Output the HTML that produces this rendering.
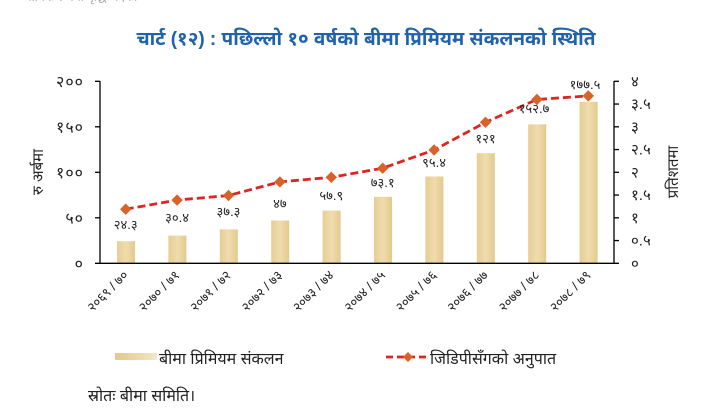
<!DOCTYPE html>
<html>
<head>
<meta charset="utf-8">
<style>
  html,body{margin:0;padding:0;background:#fff;}
  svg{display:block;}
  text{font-family:"Liberation Sans","Noto Sans Devanagari","Lohit Devanagari","FreeSans","Mangal","Noto Sans CJK SC",sans-serif;}
</style>
</head>
<body>
<svg width="710" height="413" viewBox="0 0 710 413" xmlns="http://www.w3.org/2000/svg">
  <defs>
    <linearGradient id="bar" x1="0" y1="0" x2="1" y2="0">
      <stop offset="0" stop-color="#e6cd93"/>
      <stop offset="0.5" stop-color="#efdcae"/>
      <stop offset="1" stop-color="#e4c98d"/>
    </linearGradient>
    <linearGradient id="leg" x1="0" y1="0" x2="1" y2="0">
      <stop offset="0" stop-color="#e3c890"/>
      <stop offset="0.6" stop-color="#ecd9ad"/>
      <stop offset="1" stop-color="#f3e7cc"/>
    </linearGradient>
  </defs>
  <rect width="710" height="413" fill="#fff"/>

  <!-- cut-off text at top -->
  <text x="25" y="1" font-size="12" fill="#aaa">वार्षिक रूपमा वृद्धि भएको</text>

  <!-- Title -->
  <text x="366" y="45" font-size="19" font-weight="bold" fill="#1f62ad" text-anchor="middle">चार्ट (१२) : पछिल्लो १० वर्षको बीमा प्रिमियम संकलनको स्थिति</text>

  <!-- Bars -->
  <g fill="url(#bar)">
    <rect x="117" y="241.2" width="18" height="22.1"/>
    <rect x="168.4" y="235.6" width="18" height="27.7"/>
    <rect x="219.8" y="229.4" width="18" height="33.9"/>
    <rect x="271.2" y="220.5" width="18" height="42.8"/>
    <rect x="322.6" y="210.6" width="18" height="52.7"/>
    <rect x="374" y="196.8" width="18" height="66.5"/>
    <rect x="425.4" y="176.5" width="18" height="86.8"/>
    <rect x="476.8" y="153.2" width="18" height="110.1"/>
    <rect x="528.2" y="124.3" width="18" height="139"/>
    <rect x="579.6" y="101.8" width="18" height="161.5"/>
  </g>

  <!-- Axes -->
  <g stroke="#000" stroke-width="1.3" fill="none">
    <line x1="100" y1="81" x2="100" y2="263.3"/>
    <line x1="614" y1="81" x2="614" y2="263.3"/>
    <line x1="95" y1="263.3" x2="619" y2="263.3"/>
    <line x1="95" y1="81.3" x2="100" y2="81.3"/>
    <line x1="95" y1="126.8" x2="100" y2="126.8"/>
    <line x1="95" y1="172.3" x2="100" y2="172.3"/>
    <line x1="95" y1="217.8" x2="100" y2="217.8"/>
    <line x1="614" y1="81.3" x2="619" y2="81.3"/>
    <line x1="614" y1="104.05" x2="619" y2="104.05"/>
    <line x1="614" y1="126.8" x2="619" y2="126.8"/>
    <line x1="614" y1="149.55" x2="619" y2="149.55"/>
    <line x1="614" y1="172.3" x2="619" y2="172.3"/>
    <line x1="614" y1="195.05" x2="619" y2="195.05"/>
    <line x1="614" y1="217.8" x2="619" y2="217.8"/>
    <line x1="614" y1="240.55" x2="619" y2="240.55"/>
  </g>

  <!-- Left tick labels -->
  <g font-size="16" fill="#222" text-anchor="end" letter-spacing="1">
    <text x="84" y="87">२००</text>
    <text x="84" y="132.5">१५०</text>
    <text x="84" y="178">१००</text>
    <text x="84" y="223.5">५०</text>
    <text x="84" y="269">०</text>
  </g>
  <!-- Right tick labels -->
  <g font-size="15" fill="#222">
    <text x="631" y="86.5">४</text>
    <text x="631" y="109.2">३.५</text>
    <text x="631" y="132">३</text>
    <text x="631" y="154.7">२.५</text>
    <text x="631" y="177.5">२</text>
    <text x="631" y="200.2">१.५</text>
    <text x="631" y="223">१</text>
    <text x="631" y="245.7">०.५</text>
    <text x="631" y="268.5">०</text>
  </g>

  <!-- Axis titles -->
  <text transform="translate(43,172) rotate(-90)" font-size="15" fill="#222" text-anchor="middle">रु अर्बमा</text>
  <text transform="translate(678,172) rotate(-90)" font-size="15" fill="#222" text-anchor="middle">प्रतिशतमा</text>

  <!-- Line series -->
  <polyline points="125.7,209.2 177.1,200.1 228.5,195.5 279.9,181.9 331.3,177.3 382.7,168.2 434.1,150 485.5,122.3 536.9,99.5 588.3,95.9"
    fill="none" stroke="#e02424" stroke-width="2.8" stroke-dasharray="8,4"/>
  <g fill="#d8622a">
    <polygon points="125.7,203.5 131.4,209.2 125.7,214.9 120,209.2"/>
    <polygon points="177.1,194.4 182.8,200.1 177.1,205.8 171.4,200.1"/>
    <polygon points="228.5,189.8 234.2,195.5 228.5,201.2 222.8,195.5"/>
    <polygon points="279.9,176.2 285.6,181.9 279.9,187.6 274.2,181.9"/>
    <polygon points="331.3,171.6 337,177.3 331.3,183 325.6,177.3"/>
    <polygon points="382.7,162.5 388.4,168.2 382.7,173.9 377,168.2"/>
    <polygon points="434.1,144.3 439.8,150 434.1,155.7 428.4,150"/>
    <polygon points="485.5,116.6 491.2,122.3 485.5,128 479.8,122.3"/>
    <polygon points="536.9,93.8 542.6,99.5 536.9,105.2 531.2,99.5"/>
    <polygon points="588.3,90.2 594,95.9 588.3,101.6 582.6,95.9"/>
  </g>

  <!-- Data labels -->
  <g font-size="13" fill="#222" text-anchor="middle">
    <text x="125.7" y="229">२४.३</text>
    <text x="177.1" y="222">३०.४</text>
    <text x="228.5" y="216">३७.३</text>
    <text x="279.9" y="208">४७</text>
    <text x="331.3" y="200">५७.९</text>
    <text x="382.7" y="187">७३.१</text>
    <text x="434.1" y="167">९५.४</text>
    <text x="485.5" y="143">१२१</text>
    <text x="534" y="113">१५२.७</text>
    <text x="585" y="89">१७७.५</text>
  </g>

  <!-- X labels rotated -->
  <g font-size="13" fill="#222" text-anchor="end">
    <text transform="translate(129,276) rotate(-45)">२०६९ / ७०</text>
    <text transform="translate(180.4,276) rotate(-45)">२०७० / ७१</text>
    <text transform="translate(231.8,276) rotate(-45)">२०७१ / ७२</text>
    <text transform="translate(283.2,276) rotate(-45)">२०७२ / ७३</text>
    <text transform="translate(334.6,276) rotate(-45)">२०७३ / ७४</text>
    <text transform="translate(386,276) rotate(-45)">२०७४ / ७५</text>
    <text transform="translate(437.4,276) rotate(-45)">२०७५ / ७६</text>
    <text transform="translate(488.8,276) rotate(-45)">२०७६ / ७७</text>
    <text transform="translate(540.2,276) rotate(-45)">२०७७ / ७८</text>
    <text transform="translate(591.6,276) rotate(-45)">२०७८ / ७९</text>
  </g>

  <!-- Legend -->
  <rect x="115" y="353" width="42" height="7" fill="url(#leg)"/>
  <text x="159" y="364" font-size="16" fill="#222">बीमा प्रिमियम संकलन</text>
  <line x1="386" y1="357" x2="428" y2="357" stroke="#e02424" stroke-width="2.8" stroke-dasharray="7,4"/>
  <polygon points="408,352 413,357 408,362 403,357" fill="#d8622a"/>
  <text x="430" y="364" font-size="16" fill="#222">जिडिपीसँगको अनुपात</text>

  <!-- Source -->
  <text x="88" y="401" font-size="16" fill="#222">स्रोतः बीमा समिति।</text>
</svg>
</body>
</html>
